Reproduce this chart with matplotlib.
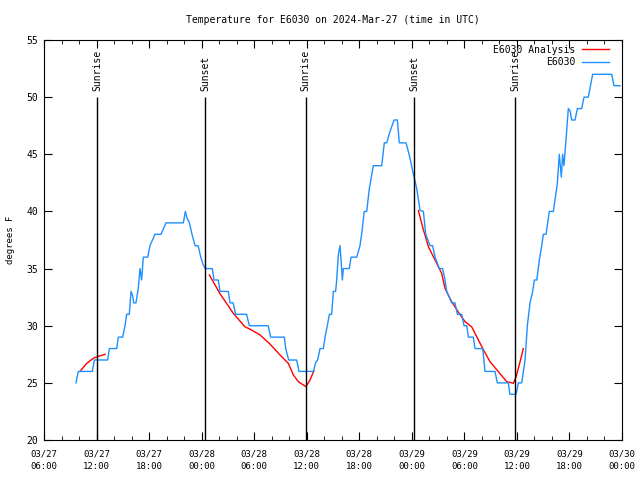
import matplotlib
matplotlib.use('Agg')
import matplotlib.pyplot as plt

# hours since 03/27 06:00 UTC
obs_hours = [3.65, 3.92, 5.52, 5.75, 7.27, 7.46, 8.30, 8.49, 8.98, 9.25, 9.44, 9.74, 9.94, 10.13, 10.24,
             10.5, 10.77, 10.96, 11.15, 11.34, 11.84, 12.1, 12.68, 13.36, 13.93, 15.91, 16.14, 16.3,
             16.6, 16.9, 17.25, 17.6, 17.9, 18.15, 18.42, 19.22, 19.41, 19.9, 20.1, 21.05, 21.24, 21.6,
             21.88, 23.14, 23.44, 25.6, 25.88, 27.44, 27.6, 27.94, 28.85, 29.12, 30.76, 31.03, 31.25,
             31.52, 31.9, 32.09, 32.35, 32.59, 32.85, 33.04, 33.3, 33.42, 33.61, 33.8, 33.9, 34.07,
             34.18, 34.86, 35.06, 35.71, 36.08, 36.27, 36.57, 36.85, 37.15, 37.6, 38.56, 38.86, 39.13,
             39.51, 39.97, 40.35, 40.57, 41.34, 41.72, 42.17, 42.56, 42.94, 43.32, 43.59, 44.08, 44.38,
             44.65, 45.14, 45.52, 45.79, 45.99, 46.55, 46.93, 47.2, 47.7, 47.96, 48.27, 48.46, 49.02,
             49.22, 50.1, 50.36, 51.5, 51.76, 53.02, 53.2, 53.9, 54.16, 54.55, 54.93, 55.19, 55.5,
             55.8, 55.99, 56.27, 56.57, 56.83, 57.02, 57.33, 57.52, 57.7, 58.16, 58.35, 58.61, 58.84,
             59.07, 59.22, 59.37, 59.61, 59.87, 60.07, 60.26, 60.64, 60.9, 61.4, 61.66, 62.15, 62.35,
             62.65, 64.82, 65.08, 65.77]
obs_temps = [25, 26, 26, 27, 27, 28, 28, 29, 29, 30, 31, 31, 33, 32.6, 32,
             32, 33.3, 35, 34, 36, 36, 37, 38, 38, 39, 39, 40, 39.5,
             39, 38, 37, 37, 36, 35.4, 35, 35, 34, 34, 33, 33, 32, 32,
             31, 31, 30, 30, 29, 29, 28, 27, 27, 26, 26, 26.8, 27,
             28, 28, 29, 30, 31, 31, 33, 33, 34, 36.2, 37, 36, 34,
             35, 35, 36, 36, 37, 38, 40, 40, 42, 44, 44, 46, 46,
             47, 48, 48, 46, 46, 44.9, 43.3, 42, 40.1, 40, 38, 37, 37,
             36, 35, 35, 34, 33, 32, 32, 31, 31, 30, 30, 29, 29,
             28, 28, 26, 26, 25, 25, 24, 24, 25, 25, 27, 30, 32,
             33, 34, 34, 35.8, 37, 38, 38, 39, 40, 40, 41, 42.4, 45,
             43, 45, 44, 46.3, 49, 48.8, 48, 48, 49, 49, 50, 50, 50.8,
             52, 52, 51, 51]

ana1_hours = [4.11, 4.87, 5.63, 6.13, 6.97]
ana1_temps = [26.0, 26.7, 27.15, 27.3, 27.5]
ana2_hours = [18.88, 20.1, 21.6, 22.95, 23.52, 24.66, 25.8, 26.95, 27.9, 28.47, 29.04, 29.92, 30.37, 30.83]
ana2_temps = [34.44, 32.8, 31.1, 29.9, 29.7, 29.2, 28.4, 27.44, 26.7, 25.7, 25.1, 24.67, 25.25, 26.07]
ana3_hours = [42.75, 43.32, 43.9, 44.65, 45.41, 45.79, 46.55, 47.31, 48.08, 48.84, 49.41, 50.17,
              50.93, 51.88, 52.84, 53.59, 53.9, 54.36, 54.73]
ana3_temps = [40.07, 38.4, 36.9, 35.75, 34.58, 33.27, 32.1, 31.2, 30.35, 29.9, 29.04, 27.9,
              26.85, 25.98, 25.1, 24.96, 25.5, 26.85, 28.0]

sun_hours = [6.05, 18.4, 29.9, 42.25, 53.8]
sun_labels = ['Sunrise', 'Sunset', 'Sunrise', 'Sunset', 'Sunrise']

xtick_hours = [0, 6, 12, 18, 24, 30, 36, 42, 48, 54, 60, 66]
xtick_labels = ['03/27\n06:00', '03/27\n12:00', '03/27\n18:00', '03/28\n00:00', '03/28\n06:00',
                '03/28\n12:00', '03/28\n18:00', '03/29\n00:00', '03/29\n06:00', '03/29\n12:00',
                '03/29\n18:00', '03/30\n00:00']

plt.rcParams['font.family'] = ['DejaVu Sans Mono']
plt.rcParams['font.size'] = 7

fig = plt.figure(figsize=(6.4, 4.8), dpi=100)
ax = fig.add_axes([44 / 640, 40 / 480, 578 / 640, 400 / 480])

ax.plot(ana1_hours, ana1_temps, color='#ff0000', lw=1, label='E6030 Analysis')
ax.plot(ana2_hours, ana2_temps, color='#ff0000', lw=1)
ax.plot(ana3_hours, ana3_temps, color='#ff0000', lw=1)
ax.plot(obs_hours, obs_temps, color='#1e90ff', lw=1, label='E6030')

for h, lab in zip(sun_hours, sun_labels):
    ax.vlines(h, 20, 50, color='black', lw=1)
    ax.text(h, 50.5, lab, rotation=90, ha='center', va='bottom', fontsize=7)

ax.set_xlim(0, 66)
ax.set_ylim(20, 55)
ax.set_xticks(xtick_hours)
ax.set_xticklabels(xtick_labels, fontsize=6.5, linespacing=1.4)
ax.set_xticks(range(0, 67, 2), minor=True)
ax.set_yticks(range(20, 56, 5))
ax.tick_params(which='both', direction='in', top=True, right=True)
ax.tick_params(which='major', length=6)
ax.tick_params(which='minor', length=3)
ax.tick_params(axis='x', which='major', pad=7)
ax.tick_params(axis='y', labelsize=7, pad=4)
ax.set_ylabel('degrees F', fontsize=6.5, labelpad=8.5)
ax.set_title('Temperature for E6030 on 2024-Mar-27 (time in UTC)', fontsize=7, pad=12)

ax.legend(loc='upper right', bbox_to_anchor=(1 - 9 / 578, 1 - 1 / 400), frameon=False,
          markerfirst=False, handlelength=2.8, handletextpad=0.7, borderaxespad=0.0,
          labelspacing=0.25, fontsize=7)

fig.savefig('out.png', dpi=100)
